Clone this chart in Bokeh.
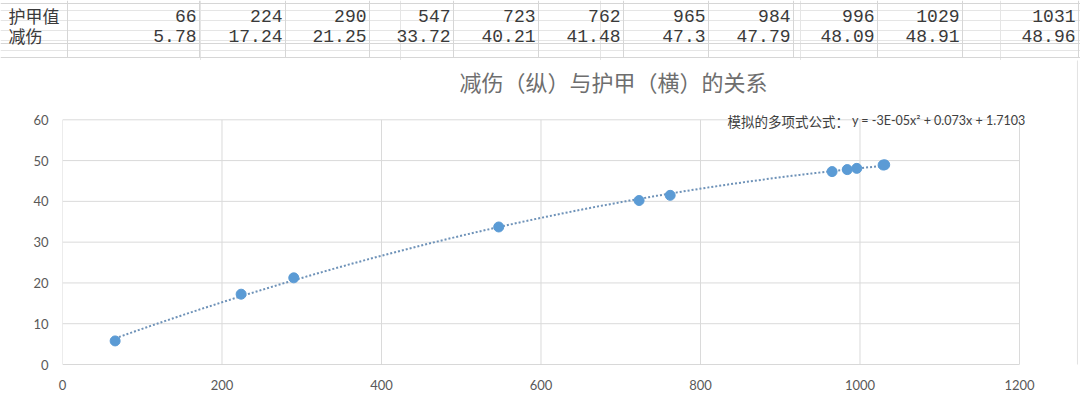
import numpy as np
from bokeh.plotting import figure
from bokeh.layouts import column
from bokeh.models import Range1d, Label, FixedTicker
from bokeh.core.properties import value
from bokeh.embed import file_html
from bokeh.resources import INLINE

# ---------------- data ----------------
row_labels = ["护甲值", "减伤"]
armor = [66, 224, 290, 547, 723, 762, 965, 984, 996, 1029, 1031]
reduction = [5.78, 17.24, 21.25, 33.72, 40.21, 41.48, 47.3, 47.79, 48.09, 48.91, 48.96]
x_ticks = [0, 200, 400, 600, 800, 1000, 1200]
y_ticks = [0, 10, 20, 30, 40, 50, 60]
title_text = "减伤（纵）与护甲（横）的关系"
eq_prefix = "模拟的多项式公式："
eq_formula = "y = -3E-05x² + 0.073x + 1.7103"

# ---------------- spreadsheet table (top strip) ----------------
col_edges = [67, 199, 285, 369, 453, 538, 623, 708, 793, 877, 962, 1078]
row_lines = [3, 43, 57]
row_y = [15, 35]
GRID = "#d6d6d6"
TXT = "#3a3a3a"

t = figure(width=1080, height=60, x_range=Range1d(0, 1080), y_range=Range1d(60, 0),
           toolbar_location=None, output_backend="svg", x_axis_location=None,
           y_axis_location=None, min_border=0, outline_line_color=None)
t.frame_align = False
t.segment(x0=col_edges, x1=col_edges, y0=[0] * len(col_edges), y1=[57] * len(col_edges),
          line_color=GRID, line_width=1)
t.segment(x0=[0] * len(row_lines), x1=[1080] * len(row_lines), y0=row_lines, y1=row_lines,
          line_color=GRID, line_width=1)
t.text(x=[8, 8], y=row_y, text=row_labels, text_font=value("Noto Sans CJK SC"),
       text_font_size="17px", text_color=TXT, text_baseline="middle", text_align="left")
right_x = [e - 3 for e in col_edges[1:]]
t.text(x=right_x, y=[row_y[0]] * len(armor), text=[str(a) for a in armor],
       text_font=value("Liberation Mono"), text_font_size="18px", text_color=TXT,
       text_baseline="middle", text_align="right")
t.text(x=right_x, y=[row_y[1]] * len(reduction), text=[str(r) for r in reduction],
       text_font=value("Liberation Mono"), text_font_size="18px", text_color=TXT,
       text_baseline="middle", text_align="right")

# ---------------- chart ----------------
# frame is extended above/right of the plot area so the title and the
# trendline equation fit inside it; grid lines are limited to the plot area.
X_MAX, Y_MAX = 1200, 60
p = figure(width=1080, height=335, x_range=Range1d(0, 1274), y_range=Range1d(0, 74.54),
           toolbar_location=None, output_backend="svg", min_border_left=62,
           min_border_right=2, min_border_top=0, min_border_bottom=31,
           outline_line_color=None)
p.frame_align = False
p.grid.visible = False

for ax in (p.xaxis, p.yaxis):
    ax.major_tick_line_color = None
    ax.minor_tick_line_color = None
    ax.axis_line_color = None
    ax.major_label_text_color = "#595959"
    ax.major_label_text_font = "Lato"
    ax.major_label_text_font_size = "13px"
p.xaxis.ticker = FixedTicker(ticks=x_ticks)
p.yaxis.ticker = FixedTicker(ticks=y_ticks)
p.xaxis.major_label_standoff = 9
p.yaxis.major_label_standoff = 8

GL = "#dadada"
p.segment(x0=x_ticks, x1=x_ticks, y0=[0] * len(x_ticks), y1=[Y_MAX] * len(x_ticks),
          line_color=GL, line_width=1)
p.segment(x0=[0] * len(y_ticks), x1=[X_MAX] * len(y_ticks), y0=y_ticks, y1=y_ticks,
          line_color=GL, line_width=1)
p.segment(x0=[0], x1=[X_MAX], y0=[0], y1=[0], line_color="#c4c4c4", line_width=1)
# sheet cell border peeking at the right edge
p.segment(x0=[1272.7], x1=[1272.7], y0=[-10], y1=[80], line_color="#e2e2e2", line_width=1)

coeffs = np.polyfit(armor, reduction, 2)
xs = np.linspace(min(armor), max(armor), 200)
p.line(xs, np.polyval(coeffs, xs), line_color="#6e92b8", line_width=2, line_dash="2 2")
p.scatter(armor, reduction, size=10, fill_color="#5b9bd5", line_color="#5b9bd5")

p.add_layout(Label(x=691, y=69.5, text=title_text, text_align="center",
                   text_baseline="middle", text_font="Noto Sans CJK SC",
                   text_font_size="22px", text_color="#6e6e6e"))
p.add_layout(Label(x=834, y=59.8, text=eq_prefix, text_align="left",
                   text_baseline="middle", text_font="Noto Sans CJK SC",
                   text_font_size="13.5px", text_color="#404040"))
p.add_layout(Label(x=990, y=59.8, text=eq_formula, text_align="left",
                   text_baseline="middle", text_font="Lato",
                   text_font_size="12.5px", text_color="#404040"))

layout = column(t, p, spacing=0)
open("out.html", "w").write(file_html(layout, INLINE))
